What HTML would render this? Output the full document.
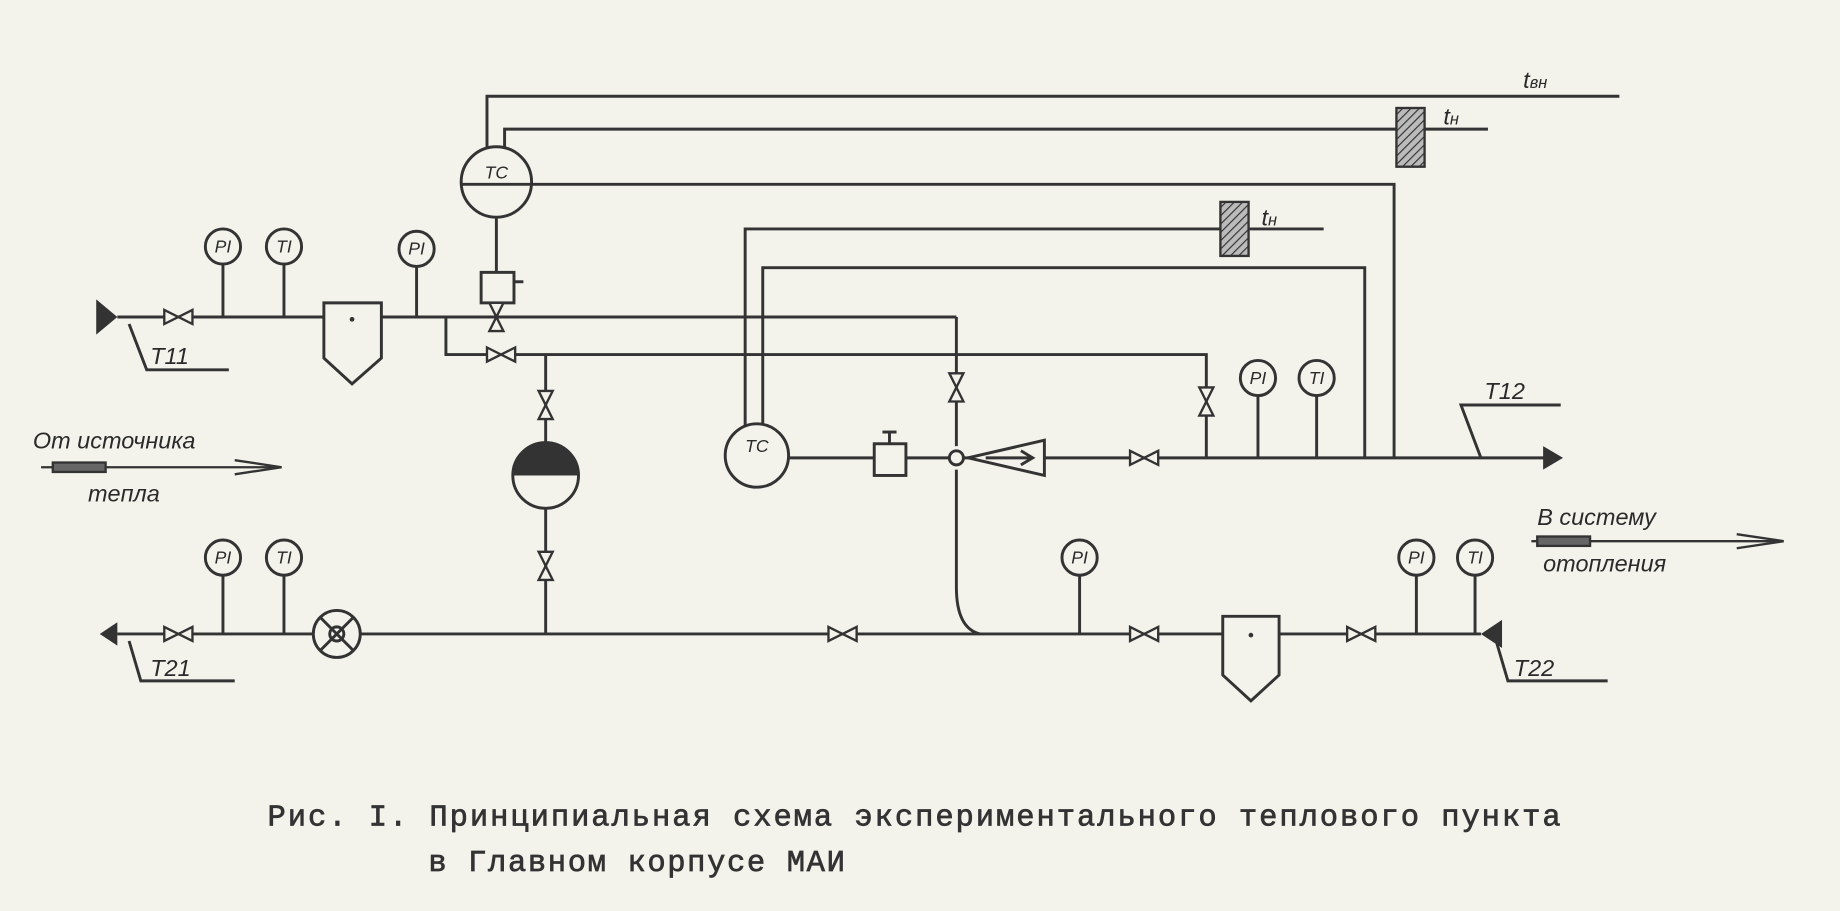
<!DOCTYPE html>
<html><head><meta charset="utf-8"><style>
html,body{margin:0;padding:0;background:#f3f3ec;}
svg{display:block}
.t{font-family:"Liberation Sans",sans-serif;font-style:italic;fill:#2a2a2a}
.c{font-family:"Liberation Mono","DejaVu Sans Mono",monospace;fill:#333}
</style></head><body>
<svg width="1840" height="911" viewBox="0 0 1568 776" preserveAspectRatio="none" xmlns="http://www.w3.org/2000/svg">
<defs>
<pattern id="h" width="5" height="5" patternUnits="userSpaceOnUse" patternTransform="rotate(45)"><rect width="5" height="5" fill="#bbb"/><line x1="0" y1="0" x2="0" y2="5" stroke="#333" stroke-width="2"/></pattern>
<g id="vh"><path d="M-12,-6 L12,6 L12,-6 L-12,6 Z" fill="#f3f3ec" stroke="#333" stroke-width="2"/></g>
<g id="vv"><path d="M-6,-12 L6,12 L-6,12 L6,-12 Z" fill="#f3f3ec" stroke="#333" stroke-width="2"/></g>
</defs>
<rect width="1568" height="776" fill="#f3f3ec"/>
<g stroke="#333" stroke-width="2.5" fill="none">
<polyline points="415,130 415,82 1380,82"/>
<polyline points="430,128 430,110 1268,110"/>
<polyline points="453,157 1188,157 1188,390"/>
<polyline points="635,375 635,195 1128,195"/>
<polyline points="650,362 650,228 1163,228 1163,390"/>
<line x1="423" y1="185" x2="423" y2="232"/>
<line x1="423" y1="258" x2="423" y2="270"/>
<line x1="100" y1="270" x2="815" y2="270"/>
<polyline points="380,270 380,302 1028,302 1028,390"/>
<line x1="465" y1="302" x2="465" y2="540"/>
<line x1="815" y1="270" x2="815" y2="380"/>
<path d="M815,400 L815,500 Q815,535 835,540"/>
<line x1="672" y1="390" x2="1320" y2="390"/>
<line x1="100" y1="540" x2="1262" y2="540"/>
<line x1="190" y1="225" x2="190" y2="270"/><line x1="242" y1="225" x2="242" y2="270"/>
<line x1="355" y1="228" x2="355" y2="270"/>
<line x1="1072" y1="337" x2="1072" y2="390"/><line x1="1122" y1="337" x2="1122" y2="390"/>
<line x1="190" y1="490" x2="190" y2="540"/><line x1="242" y1="490" x2="242" y2="540"/>
<line x1="920" y1="490" x2="920" y2="540"/>
<line x1="1207" y1="490" x2="1207" y2="540"/><line x1="1257" y1="490" x2="1257" y2="540"/>
<polyline points="110,276 125,315 195,315"/>
<polyline points="110,546 120,580 200,580"/>
<polyline points="1275,546 1285,580 1370,580"/>
<polyline points="1262,390 1245,345 1330,345"/>
</g>
<rect x="1190" y="92" width="24" height="50" fill="url(#h)" stroke="#333" stroke-width="2"/>
<rect x="1040" y="172" width="24" height="46" fill="url(#h)" stroke="#333" stroke-width="2"/>
<g stroke="#333" stroke-width="2.5" fill="#f3f3ec">
<circle cx="423" cy="155" r="30"/><line x1="393" y1="157" x2="453" y2="157"/>
<circle cx="645" cy="388" r="27"/>
<rect x="410" y="232" width="28" height="26"/><line x1="438" y1="240" x2="446" y2="240"/>
<rect x="745" y="378" width="27" height="27"/><line x1="758" y1="378" x2="758" y2="368"/><line x1="752" y1="368" x2="764" y2="368"/>
<path d="M276,258 L325,258 L325,305 L300,327 L276,305 Z"/>
<path d="M1042,525 L1090,525 L1090,575 L1066,597 L1042,575 Z"/>
<circle cx="465" cy="405" r="28"/>
<circle cx="287" cy="540" r="20"/><circle cx="287" cy="540" r="6"/>
<line x1="273" y1="526" x2="301" y2="554"/><line x1="301" y1="526" x2="273" y2="554"/>
<path d="M825,390 L890,375 L890,405 Z"/>
<path d="M840,390 L880,390 M870,384 L880,390 L870,396" fill="none"/>
<circle cx="815" cy="390" r="6"/>
<circle cx="190" cy="210" r="15"/><circle cx="242" cy="210" r="15"/><circle cx="355" cy="212" r="15"/>
<circle cx="1072" cy="322" r="15"/><circle cx="1122" cy="322" r="15"/>
<circle cx="190" cy="475" r="15"/><circle cx="242" cy="475" r="15"/><circle cx="920" cy="475" r="15"/>
<circle cx="1207" cy="475" r="15"/><circle cx="1257" cy="475" r="15"/>
</g>
<path d="M437,405 A28,28 0 0 1 493,405 Z" fill="#333"/>
<circle cx="300" cy="272" r="2" fill="#333"/><circle cx="1066" cy="541" r="2" fill="#333"/>
<path d="M82,255 L100,270 L82,285 Z" fill="#333"/>
<path d="M100,530 L85,540 L100,550 Z" fill="#333"/>
<path d="M1315,380 L1332,390 L1315,400 Z" fill="#333"/>
<path d="M1280,528 L1262,540 L1280,552 Z" fill="#333"/>
<use href="#vh" x="152" y="270"/><use href="#vh" x="427" y="302"/>
<use href="#vv" x="423" y="270"/>
<use href="#vv" x="465" y="345"/><use href="#vv" x="465" y="482"/>
<use href="#vv" x="815" y="330"/><use href="#vv" x="1028" y="342"/>
<use href="#vh" x="975" y="390"/>
<use href="#vh" x="152" y="540"/><use href="#vh" x="718" y="540"/><use href="#vh" x="975" y="540"/><use href="#vh" x="1160" y="540"/>
<g class="t" font-size="15" text-anchor="middle">
<text x="423" y="152">TC</text><text x="645" y="385">TC</text>
<text x="190" y="215">PI</text><text x="242" y="215">TI</text><text x="355" y="217">PI</text>
<text x="1072" y="327">PI</text><text x="1122" y="327">TI</text>
<text x="190" y="480">PI</text><text x="242" y="480">TI</text><text x="920" y="480">PI</text>
<text x="1207" y="480">PI</text><text x="1257" y="480">TI</text>
</g>
<g class="t" font-size="20">
<text x="1298" y="75">t<tspan font-size="14">вн</tspan></text>
<text x="1230" y="106">t<tspan font-size="14">н</tspan></text>
<text x="1075" y="192">t<tspan font-size="14">н</tspan></text>
<text x="128" y="310">T11</text><text x="128" y="576">T21</text>
<text x="1290" y="576">T22</text><text x="1265" y="340">T12</text>
<text x="28" y="382">От источника</text><text x="75" y="427">тепла</text>
<text x="1310" y="447">В систему</text><text x="1315" y="487">отопления</text>
</g>
<g stroke="#333" stroke-width="2" fill="#333">
<line x1="35" y1="398" x2="235" y2="398"/><rect x="45" y="394" width="45" height="8" fill="#666"/><path d="M200,392 L240,398 L200,404" fill="none"/>
<line x1="1305" y1="461" x2="1515" y2="461"/><rect x="1310" y="457" width="45" height="8" fill="#666"/><path d="M1480,455 L1520,461 L1480,467" fill="none"/>
</g>
<g class="c" font-size="26" stroke="#333" stroke-width="0.6">
<text x="228" y="703" textLength="1102" lengthAdjust="spacing">Рис. I. Принципиальная схема экспериментального теплового пункта</text>
<text x="365" y="742" textLength="355" lengthAdjust="spacing">в Главном корпусе МАИ</text>
</g>
</svg>
</body></html>
